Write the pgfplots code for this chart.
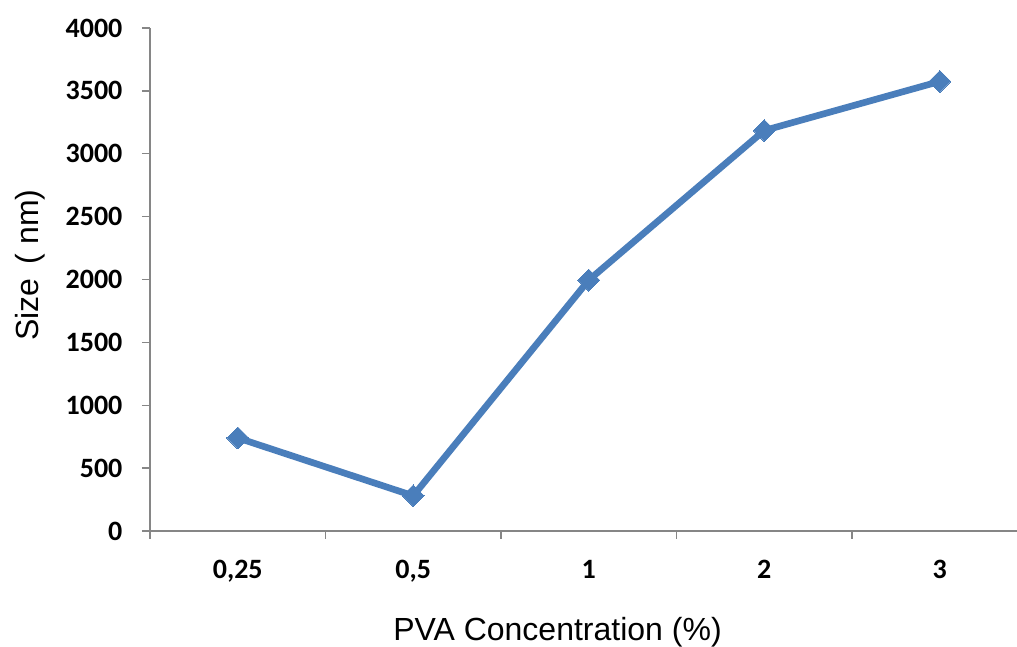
\documentclass[border=0pt]{standalone}
\usepackage{fontspec}
\setmainfont{Liberation Sans}
\newfontfamily\tickfont{Carlito}
\usepackage{pgfplots}
\pgfplotsset{compat=1.18}
\usetikzlibrary{calc}
\definecolor{xlblue}{HTML}{4A7EBB}
\definecolor{axgray}{HTML}{868686}

\begin{document}
\begin{tikzpicture}
\begin{axis}[
    name=ax,
    scale only axis,
    width=650.25pt, height=377.25pt,
    xmin=-0.5, xmax=4.44,
    ymin=0, ymax=4000,
    axis x line=bottom, axis y line=left,
    axis line style={-, axgray, line width=1pt},
    tick align=outside,
    major tick length=6pt,
    tick style={axgray, line width=1pt},
    ytick={0,500,...,4000},
    xtick={-0.5,0.5,1.5,2.5,3.5},
    xticklabels={},
    extra x ticks={0,1,2,3,4},
    extra x tick labels={{0,25},{0,5},1,2,3},
    extra x tick style={major tick length=0pt},
    /pgf/number format/assume math mode=true,
    /pgf/number format/1000 sep={},
    ticklabel style={font=\tickfont\bfseries\fontsize{21}{24}\selectfont},
    yticklabel style={inner sep=0pt, xshift=-14.5pt},
    xticklabel style={inner sep=0pt, yshift=-22pt},
    xlabel={PVA Concentration (\%)},
    ylabel={Size\, ( nm)},
    label style={font=\fontsize{24}{28}\selectfont},
    xlabel style={at={(rel axis cs:0.47,0)}, anchor=center, yshift=-75.75pt},
    ylabel style={at={(rel axis cs:0,0.529)}, anchor=center, yshift=90pt},
]
\addplot[xlblue, line width=5pt, mark=square*, mark size=5.8pt,
    mark options={fill=xlblue, draw=xlblue, line width=0pt, rotate=45}]
    coordinates {(0,740) (1,280) (2,1995) (3,3185) (4,3575)};
\end{axis}
\pgfresetboundingbox
\path ($(ax.south west)+(-112.5pt,-87pt)$) rectangle ($(ax.north east)+(0,21pt)$);
\end{tikzpicture}
\end{document}
